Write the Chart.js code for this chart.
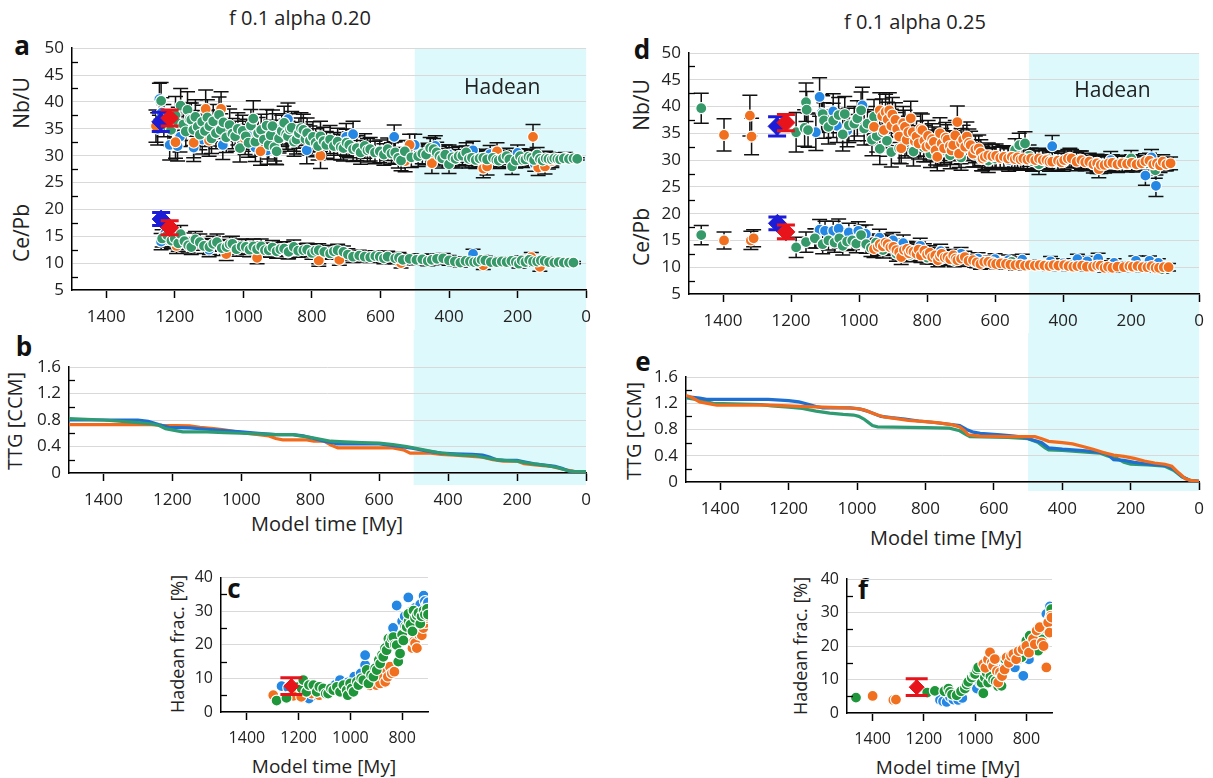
<!DOCTYPE html>
<html>
<head>
<meta charset="utf-8">
<script src="https://cdn.jsdelivr.net/npm/chart.js@4.4.0/dist/chart.umd.min.js"></script>
<style>
  body { margin: 0; background: #fff; width: 1213px; height: 778px; position: relative; overflow: hidden; font-family: 'Open Sans', sans-serif; color: #222; }
  canvas { position: absolute; }
  .lbl { position: absolute; white-space: nowrap; line-height: 1; transform: translate(-50%, -50%); }
  .rot { transform: translate(-50%, -50%) rotate(-90deg); }
  .letter { font-weight: bold; font-size: 26px; color: #111; }
</style>
</head>
<body>

<div class="lbl" style="left:300px;top:18px;font-size:20px">f 0.1 alpha 0.20</div>
<div class="lbl" style="left:915px;top:22px;font-size:20px">f 0.1 alpha 0.25</div>

<div class="lbl letter" style="left:22px;top:45px">a</div>
<div class="lbl letter" style="left:642px;top:49px">d</div>
<div class="lbl letter" style="left:24px;top:346px">b</div>
<div class="lbl letter" style="left:643px;top:361px">e</div>
<div class="lbl letter" style="left:234px;top:588px">c</div>
<div class="lbl letter" style="left:863px;top:589px">f</div>

<div class="lbl rot" style="left:21px;top:103px;font-size:21px">Nb/U</div>
<div class="lbl rot" style="left:21px;top:233px;font-size:21px">Ce/Pb</div>
<div class="lbl rot" style="left:641px;top:105px;font-size:21px">Nb/U</div>
<div class="lbl rot" style="left:641px;top:237px;font-size:21px">Ce/Pb</div>
<div class="lbl rot" style="left:15px;top:421px;font-size:20px">TTG [CCM]</div>
<div class="lbl rot" style="left:634px;top:431px;font-size:20px">TTG [CCM]</div>
<div class="lbl rot" style="left:177px;top:644px;font-size:18px">Hadean frac. [%]</div>
<div class="lbl rot" style="left:800px;top:646px;font-size:18px">Hadean frac. [%]</div>

<div class="lbl" style="left:327px;top:524px;font-size:20px">Model time [My]</div>
<div class="lbl" style="left:946px;top:538px;font-size:20px">Model time [My]</div>
<div class="lbl" style="left:324px;top:766px;font-size:19px">Model time [My]</div>
<div class="lbl" style="left:948px;top:767px;font-size:19px">Model time [My]</div>

<script>
// ---- colours
const BLUE = '#2487e3';
const ORANGE = '#f0701f';
const GREEN = '#35996a';
const GREEN2 = '#1f963a';
const OBS_BLUE = '#1c1cd6';
const OBS_RED = '#e8141c';

// ---- ticks
const xTicksLong = [1400, 1200, 1000, 800, 600, 400, 200, 0];
const xTicksShort = [1400, 1200, 1000, 800];
const yTicksRatio = [5, 10, 15, 20, 25, 30, 35, 40, 45, 50];
const yMinorRatio = [7.5, 12.5, 17.5, 22.5, 27.5, 32.5, 37.5, 42.5, 47.5];
const yTicksTTG = [0, 0.4, 0.8, 1.2, 1.6];
const yMinorTTG = [0.2, 0.6, 1.0, 1.4];
const yTicksFrac = [0, 10, 20, 30, 40];
const yMinorFrac = [5, 15, 25, 35];

// ---- observed values [time, value, half error]
const obsBlueNbCe = [[1241, 36.3, 1.8], [1240, 18.2, 1.2]];
const obsRedNbCe = [[1215, 37.0, 1.5], [1215, 16.6, 1.3]];
const obsRedFrac = [[1228, 7.7, 2.5]];

// ---- panel a : f 0.1 alpha 0.20, Nb/U and Ce/Pb  [time, value, half error]
const aNbBlue = [[1250,35,3],[1245,40.5,3],[1238,38,2.8],[1215,32,2.8],[1185,33.5,2.8],[1192,31.8,2.8],[1145,31.5,2.6],[1120,33,2.7],[1085,35.5,2.9],[1060,32,2.7],[990,34,2.8],[965,31.5,2.6],[930,31,2.6],[905,35,2.8],[870,36.8,3],[850,33.5,2.7],[815,31,2.5],[700,33.5,2.5],[680,34,2.4],[560,33.5,2.2],[500,32,2],[440,31.8,1.9],[400,30.2,1.8],[330,31,1.7],[280,30.3,1.6],[200,30.5,1.5],[150,28.5,1.4],[110,28.8,1.3],[60,29.6,1]];
const aNbOrange = [[1255,35.5,3],[1198,32.5,3],[1145,32.4,2.8],[1110,38.7,3.5],[1100,32.8,2.9],[1065,38.7,3.2],[995,33,2.8],[950,30.8,2.6],[905,31,2.6],[775,30,2.4],[700,32.5,2.4],[560,30.5,2.1],[528,29,2],[515,32,2],[450,28.6,1.9],[350,30,1.8],[300,27.6,1.7],[289,28,1.6],[260,30.8,1.6],[155,33.5,2.3],[140,27.8,1.5],[120,28,1.4],[100,29,1.2]];
const aNbGreen = [[1240,40.2,3.4],[1232,36.5,3],[1220,35.2,3.2],[1211,34.8,3],[1198,37.5,3.5],[1190,36,3],[1183,39.3,3.2],[1175,35.8,3],[1168,34.5,2.8],[1163,38.5,3.4],[1157,36.8,3],[1152,36.7,3.1],[1146,34.8,2.9],[1140,37.2,3.2],[1133,35.4,3],[1127,33.9,2.8],[1120,36.3,3.1],[1112,34.6,2.9],[1105,37.1,3.3],[1099,35.5,3],[1093,33.2,2.8],[1088,36.4,3.1],[1080,34.2,2.9],[1071,37.6,3.3],[1066,34.8,3],[1058,36.2,3],[1050,33.4,2.8],[1040,35.7,3],[1032,34.1,2.8],[1024,33.6,2.8],[1016,35,3],[1010,31.4,2.6],[1002,34.6,2.9],[993,33.6,2.8],[985,32.4,2.7],[978,35.6,3],[971,36.9,3.3],[965,32.6,2.7],[957,34.2,2.9],[948,34.8,2.9],[940,33,2.7],[932,35.6,3],[926,32,2.6],[920,33.8,2.8],[915,35.5,3],[909,31.6,2.6],[903,30.8,2.5],[896,33.2,2.7],[888,34.6,2.9],[881,36.1,3.1],[875,34,2.8],[870,33.6,2.8],[864,34.9,2.9],[859,35.2,3],[852,32.6,2.7],[845,33,2.7],[838,34.2,2.8],[832,35.1,2.9],[825,34.8,2.9],[819,33.1,2.7],[814,34.2,2.8],[806,32.8,2.7],[797,33.5,2.8],[789,32.4,2.6],[782,31.8,2.6],[775,33.6,2.8],[766,32.7,2.6],[758,32,2.5],[747,33,2.6],[736,31.8,2.5],[725,32.6,2.5],[716,31.6,2.4],[708,31.4,2.4],[699,32.4,2.5],[691,32,2.4],[680,31.2,2.3],[669,31.4,2.3],[658,30.6,2.2],[646,31.8,2.3],[638,31,2.2],[630,31.2,2.2],[616,30.6,2.1],[602,30.8,2.1],[590,30.2,2],[579,31.2,2.1],[568,30.4,2],[557,30.6,2],[548,29.6,1.9],[540,29.1,1.9],[529,30.8,2],[510,29.7,1.9],[490,29.9,1.9],[478,30.4,1.9],[467,30.2,1.9],[455,31.4,2],[445,31.2,2],[436,30.6,1.9],[428,29.9,1.8],[420,29.5,1.8],[411,30.2,1.8],[400,28.4,1.7],[390,29.7,1.8],[381,29.4,1.7],[372,29.9,1.8],[361,30,1.7],[350,30.6,1.8],[342,29.4,1.7],[333,29.6,1.7],[322,29.2,1.6],[311,29.5,1.6],[300,29.6,1.6],[289,29.3,1.6],[272,29.6,1.6],[262,29.2,1.5],[255,29.1,1.5],[243,29.5,1.5],[232,29.9,1.5],[224,29.3,1.5],[216,28,1.5],[205,29.1,1.4],[193,29.9,1.4],[185,29.2,1.4],[177,29.3,1.4],[168,29.8,1.4],[160,29.6,1.4],[152,29.2,1.3],[143,30.2,1.3],[135,29.4,1.3],[127,29.1,1.3],[118,29.5,1.3],[110,29.4,1.2],[100,29.3,1.2],[93,29.5,1],[84,29.4,0.8],[76,29.3,0.6],[65,29.5,0.4],[50,29.4,0.3],[37,29.5,0.2],[26,29.4,0.2]];
const aCeBlue = [[1240,14,1.5],[1228,15.5,1.6],[1100,12.5,1.3],[870,12,1.2],[780,11,1.1],[480,10.8,0.9],[330,11.7,0.9],[180,10.5,0.8]];
const aCeOrange = [[1215,14.5,1.5],[1195,13.2,1.4],[1050,11.7,1.2],[960,11,1.1],[780,10.5,1.1],[720,10.6,1],[540,10,0.9],[300,9.6,0.8],[160,11.1,0.9],[135,9.3,0.8]];
const aCeGreen = [[1237,14.6,1.6],[1222,15.2,1.6],[1210,14.2,1.5],[1200,14.6,1.5],[1190,13.7,1.5],[1183,15.4,1.6],[1172,14.1,1.5],[1161,13.3,1.4],[1152,13,1.4],[1140,14.4,1.5],[1127,13.9,1.5],[1115,13.2,1.4],[1099,13,1.4],[1088,13.6,1.4],[1077,13.9,1.5],[1063,12.8,1.4],[1049,13,1.4],[1040,13.5,1.4],[1032,13.6,1.4],[1020,12.6,1.3],[1005,13.1,1.4],[993,13,1.4],[982,12.5,1.3],[971,13.1,1.4],[960,12.6,1.3],[948,13.1,1.4],[937,12.4,1.3],[926,12.4,1.3],[915,12.9,1.3],[903,12.2,1.3],[892,12.6,1.3],[881,12.7,1.3],[868,12.1,1.3],[853,13,1.3],[840,12.3,1.2],[825,12.4,1.2],[814,12.5,1.2],[800,11.9,1.2],[790,12.3,1.2],[780,12.4,1.2],[764,12.1,1.2],[747,11.8,1.1],[736,12.2,1.1],[725,12.4,1.1],[708,12.1,1.1],[695,11.6,1.1],[680,11.2,1.1],[662,11.4,1],[646,11.2,1],[630,11.1,1],[615,11.3,1],[602,11.2,1],[590,10.9,1],[579,11.2,1],[557,10.9,1],[546,11,1],[535,10.6,0.9],[515,10.8,0.9],[495,10.6,0.9],[478,10.7,0.9],[462,10.4,0.9],[450,10.6,0.9],[435,10.8,0.9],[417,10.9,0.9],[400,10.5,0.9],[383,10.3,0.8],[367,10.1,0.8],[352,10.4,0.8],[339,10.3,0.8],[327,10.2,0.8],[316,10.3,0.8],[305,10.6,0.8],[294,10.5,0.8],[278,10.2,0.8],[261,10.2,0.8],[246,10.3,0.8],[232,10.2,0.8],[218,10.4,0.8],[205,10.2,0.8],[196,9.9,0.8],[188,10.5,0.8],[177,10.2,0.8],[166,10.6,0.8],[155,10.3,0.7],[143,10.3,0.7],[132,10.5,0.7],[121,10.4,0.7],[108,10.2,0.7],[93,10.1,0.5],[80,10.2,0.4],[65,10.1,0.3],[50,10.1,0.2],[37,10.1,0.2]];

// ---- panel d : f 0.1 alpha 0.25, Nb/U and Ce/Pb
const dNbBlue = [[1127,35.2,3.4],[1116,41.8,3.6],[1110,38.8,3.4],[1076,39.1,3.3],[1065,36.4,3.1],[1035,35.5,3],[990,40.2,3.4],[960,36,3.1],[880,34.8,2.9],[820,33.4,2.7],[760,31.5,2.6],[700,31.8,2.5],[560,30,2.1],[432,32.6,2],[380,30.4,1.8],[300,29.2,1.7],[260,30,1.6],[158,27.1,1.8],[140,30.5,1.5],[127,25.2,2]];
const dNbGreen = [[1464,39.7,2.8],[1185,35.2,3.7],[1160,36,3.4],[1156,40.8,3.6],[1154,39.4,3.4],[1150,35.6,3.2],[1107,38.6,3.4],[1103,37.4,3.3],[1090,36.2,3.2],[1076,37.4,3.2],[1060,38.4,3.3],[1048,34.8,3.1],[1042,38.6,3.3],[1030,36.5,3.2],[1014,36.8,3.2],[1005,37.8,3.3],[994,39.3,3.4],[985,35.9,3.1],[975,36.8,3.2],[962,33.8,3],[956,38.1,3.2],[948,34.5,3],[939,32.1,2.9],[930,35.2,3],[918,33.6,2.9],[905,31.5,2.8],[882,32.2,2.8],[865,33.2,2.8],[840,31.6,2.7],[810,32.4,2.7],[790,31.2,2.6],[770,32.7,2.7],[750,31.8,2.6],[732,30.9,2.5],[700,30.5,2.4],[660,31,2.3],[640,30.2,2.2],[620,29.9,2.2],[600,30.3,2.1],[560,30.5,2],[541,31.9,2.1],[529,32.8,2.2],[512,33.1,2.2],[500,30.8,2],[490,29.8,1.9],[471,29.2,1.9],[445,30.2,1.8],[400,29.6,1.7],[350,30.1,1.6],[300,29.5,1.6],[250,29.3,1.5],[200,30.3,1.5],[155,29.4,1.4],[129,28.1,1.5],[100,29.2,1.2]];
const dNbOrange = [[1397,34.7,3],[1321,38.3,3.8],[1316,34.4,3.4],[956,36.2,3.2],[939,39.3,3.3],[932,38.2,3.2],[927,35.6,3.1],[922,39,3.3],[916,37.6,3.2],[911,39.3,3.3],[905,36.4,3.1],[902,38.5,3.2],[893,37.5,3.2],[888,35.8,3.1],[882,34.4,3],[876,32.2,2.9],[870,36.9,3.1],[865,36.2,3.1],[860,33.8,3],[855,35.2,3],[848,37.8,3.2],[842,35.2,3],[836,33.5,2.9],[831,34.4,2.9],[825,33.1,2.9],[819,35.8,3],[814,35.6,3],[808,33.6,2.9],[802,32.5,2.8],[797,34.5,2.9],[791,32.8,2.8],[785,33.9,2.9],[780,33.4,2.8],[775,31.8,2.7],[770,30.6,2.6],[762,35,2.9],[757,33.1,2.8],[750,32.2,2.7],[745,34.2,2.8],[740,33.8,2.8],[733,32.6,2.7],[728,31.8,2.6],[723,32.8,2.7],[717,34.6,2.8],[711,37.1,3],[706,31.2,2.6],[700,33.2,2.7],[694,33.8,2.7],[688,32.5,2.6],[683,34.4,2.7],[677,33.2,2.6],[672,32.8,2.6],[665,31.2,2.5],[658,32,2.5],[648,32.2,2.5],[642,31.4,2.4],[637,30.3,2.3],[630,30.6,2.3],[620,30.9,2.3],[608,30.7,2.2],[597,30.8,2.2],[585,30.4,2.1],[574,30.6,2.1],[562,30.3,2.1],[551,30.6,2],[542,30.2,2],[534,30.5,2],[525,30.1,2],[517,30.3,2],[505,30.1,1.9],[494,30.3,1.9],[482,30,1.9],[471,30.3,1.9],[460,30,1.8],[449,30,1.8],[440,29.7,1.8],[432,29.7,1.8],[415,29.9,1.8],[405,29.6,1.7],[397,30,1.7],[386,30.3,1.7],[375,30.3,1.7],[360,29.7,1.7],[346,30,1.7],[335,29.6,1.6],[323,29.7,1.6],[311,29.2,1.6],[300,29.4,1.6],[295,28.3,1.6],[289,29.1,1.6],[278,29.1,1.5],[266,29.4,1.5],[255,29.5,1.5],[240,29.2,1.5],[226,29.4,1.5],[212,29.3,1.5],[198,29.5,1.5],[184,29.2,1.4],[169,29.4,1.4],[158,29.8,1.4],[146,29.9,1.4],[135,29.2,1.4],[124,29.4,1.3],[115,29,1.3],[107,29.7,1.3],[96,29.2,1.2],[84,29.4,1.2]];
const dCeBlue = [[1127,15.4,1.8],[1116,17,1.9],[1100,16.8,1.8],[1076,16.8,1.8],[1060,17.2,1.8],[1030,16.5,1.7],[1002,16.8,1.7],[980,16.2,1.7],[940,15.5,1.6],[900,15,1.5],[870,14.5,1.5],[820,14,1.4],[760,13,1.3],[700,12.5,1.2],[650,11.6,1.1],[600,11.5,1],[560,11.3,1],[520,11.4,1],[437,11.1,0.9],[400,10.7,0.9],[358,11.5,0.9],[329,11.1,0.9],[297,11.6,1],[250,10.8,0.8],[186,11.2,0.9],[146,11.2,0.9],[120,10.8,0.8]];
const dCeGreen = [[1464,16,1.8],[1185,13.7,1.9],[1156,14.7,1.9],[1130,15.4,1.8],[1107,14.3,1.8],[1090,15,1.8],[1072,14.6,1.8],[1058,15.4,1.8],[1048,14,1.7],[1035,14.8,1.7],[1020,15,1.7],[1008,14.4,1.7],[994,16,1.8],[979,14.3,1.7],[965,13.6,1.6],[950,14.6,1.6],[930,13.2,1.5],[890,12.5,1.4],[850,12.3,1.3],[800,11.8,1.2],[760,11.5,1.2],[720,11.2,1.1],[660,11,1],[608,10.9,1],[570,10.6,0.9],[551,11,0.9],[500,10.5,0.8],[450,10.3,0.8],[380,10.4,0.8],[300,10.2,0.8],[200,10.1,0.7],[130,9.8,0.7],[110,9.6,0.7]];
const dCeOrange = [[1397,15,1.6],[1318,15,1.7],[1310,15.4,1.6],[956,13.4,1.6],[945,13.8,1.6],[939,14.3,1.6],[930,13.9,1.5],[922,14.6,1.6],[916,14.3,1.6],[908,13.7,1.5],[899,13.8,1.5],[890,13.2,1.5],[882,12.8,1.4],[876,11.9,1.4],[868,13.2,1.4],[859,13.4,1.4],[853,12.6,1.4],[848,13.1,1.4],[840,12.9,1.4],[831,12.5,1.3],[825,13.3,1.4],[818,12.2,1.3],[808,13.1,1.3],[800,12.4,1.3],[792,12.7,1.3],[785,11.9,1.3],[776,12.2,1.2],[768,11.3,1.2],[762,12,1.2],[757,12.5,1.2],[748,11.8,1.2],[740,11.9,1.2],[732,11.5,1.1],[723,12.2,1.1],[716,11.6,1.1],[711,11.3,1.1],[700,11.6,1.1],[689,11.9,1.1],[678,11.2,1],[665,11.3,1],[654,10.9,1],[643,10.6,1],[632,11,1],[620,11,1],[608,10.7,0.9],[597,10.6,0.9],[583,10.7,0.9],[568,10.6,0.9],[555,10.5,0.9],[540,10.4,0.9],[526,10.5,0.9],[512,10.3,0.8],[498,10.4,0.8],[483,10.3,0.8],[469,10.4,0.8],[455,10.3,0.8],[440,10.2,0.8],[428,10.4,0.8],[414,10.3,0.8],[397,10.4,0.9],[384,10.2,0.8],[370,10.1,0.8],[358,10.2,0.8],[344,10.3,0.8],[330,10.1,0.8],[312,10.1,0.8],[300,10.3,0.8],[290,10.3,0.9],[278,9.9,0.8],[268,10.1,0.8],[255,9.9,0.8],[240,10.1,0.8],[221,10,0.8],[205,10.2,0.8],[195,10.1,0.8],[181,10.2,0.8],[166,10,0.8],[152,10,0.8],[140,10.2,0.8],[128,9.9,0.8],[118,9.9,0.8],[104,10,0.7],[90,10,0.7]];

// ---- panels b / e : TTG [CCM] curves  [time, value]
const bBlue = [[1500,0.80],[1300,0.80],[1270,0.78],[1240,0.73],[1210,0.69],[1150,0.68],[1100,0.66],[1050,0.64],[1000,0.62],[950,0.60],[900,0.58],[850,0.58],[820,0.56],[790,0.52],[760,0.48],[740,0.46],[720,0.44],[600,0.44],[570,0.42],[540,0.40],[500,0.37],[460,0.33],[420,0.30],[380,0.29],[330,0.28],[300,0.27],[280,0.24],[260,0.20],[230,0.19],[200,0.19],[180,0.17],[150,0.14],[120,0.12],[90,0.10],[70,0.07],[50,0.03],[35,0.02],[0,0.02]];
const bOrange = [[1500,0.73],[1260,0.73],[1230,0.72],[1150,0.71],[1120,0.69],[1080,0.67],[1050,0.65],[1000,0.61],[950,0.58],[920,0.56],[900,0.52],[880,0.50],[810,0.50],[790,0.48],[760,0.48],[740,0.42],[720,0.38],[560,0.38],[530,0.35],[510,0.30],[450,0.30],[420,0.28],[380,0.27],[330,0.25],[300,0.24],[270,0.20],[240,0.18],[200,0.18],[180,0.14],[140,0.12],[100,0.10],[70,0.06],[40,0.03],[25,0.01],[0,0.01]];
const bGreen = [[1500,0.82],[1400,0.80],[1300,0.76],[1260,0.74],[1240,0.72],[1220,0.67],[1190,0.64],[1170,0.62],[1100,0.62],[1050,0.61],[1000,0.60],[950,0.59],[900,0.58],[850,0.58],[830,0.56],[800,0.54],[770,0.51],[740,0.48],[700,0.47],[650,0.46],[600,0.45],[560,0.43],[520,0.40],[490,0.37],[460,0.34],[430,0.31],[400,0.29],[360,0.27],[320,0.26],[290,0.23],[270,0.21],[240,0.19],[200,0.18],[170,0.15],[140,0.13],[110,0.11],[80,0.08],[50,0.03],[30,0.02],[0,0.02]];
const eBlue = [[1500,1.30],[1460,1.28],[1440,1.26],[1260,1.26],[1200,1.24],[1170,1.22],[1140,1.18],[1120,1.15],[1100,1.13],[1020,1.13],[990,1.11],[970,1.08],[950,1.04],[930,1.00],[900,0.98],[860,0.96],[820,0.93],[780,0.91],[730,0.88],[700,0.86],[680,0.80],[660,0.76],[640,0.74],[580,0.72],[540,0.70],[510,0.68],[480,0.63],[460,0.60],[440,0.52],[400,0.50],[340,0.48],[300,0.46],[270,0.43],[250,0.34],[220,0.33],[190,0.30],[160,0.28],[120,0.26],[90,0.24],[70,0.18],[50,0.08],[25,0.02],[0,0.01]];
const eGreen = [[1500,1.28],[1470,1.26],[1440,1.22],[1420,1.20],[1280,1.18],[1250,1.16],[1200,1.14],[1160,1.12],[1120,1.08],[1080,1.05],[1040,1.03],[1010,1.02],[995,1.00],[980,0.96],[970,0.92],[955,0.86],[940,0.84],[800,0.83],[730,0.82],[700,0.78],[680,0.72],[670,0.69],[560,0.68],[500,0.66],[470,0.60],[450,0.52],[440,0.49],[400,0.48],[340,0.46],[290,0.44],[270,0.40],[240,0.36],[220,0.30],[200,0.27],[150,0.26],[100,0.24],[75,0.18],[50,0.08],[25,0.02],[0,0.01]];
const eOrange = [[1500,1.32],[1480,1.28],[1460,1.22],[1430,1.19],[1410,1.17],[1260,1.17],[1200,1.16],[1150,1.15],[1100,1.14],[1030,1.13],[1000,1.12],[980,1.10],[960,1.06],[940,1.02],[920,0.99],[890,0.97],[850,0.94],[800,0.92],[760,0.90],[720,0.87],[700,0.84],[685,0.78],[675,0.72],[640,0.70],[560,0.69],[480,0.69],[460,0.66],[440,0.62],[400,0.60],[370,0.58],[340,0.54],[310,0.50],[280,0.45],[250,0.41],[220,0.39],[190,0.36],[160,0.32],[130,0.29],[100,0.27],[80,0.24],[60,0.14],[40,0.05],[20,0.02],[0,0.01]];

// ---- panels c / f : Hadean fraction [%]  [time, value]
const cBlue = [[1266,7.7],[1240,7.2],[1160,4],[1130,5],[1085,6.2],[1060,8],[1040,9.5],[1010,8.8],[985,10.5],[960,11.5],[943,14],[943,16.9],[925,12],[900,13.5],[880,16],[860,19.5],[850,22],[835,25],[821,31.7],[800,27],[790,28.5],[776,34.1],[765,30],[750,31],[740,28.5],[730,32],[717,34.6],[712,33],[705,32],[700,32.6]];
const cOrange = [[1298,5],[1240,4.5],[1220,4.8],[1190,4.5],[1150,5.5],[1120,5],[1095,5.3],[1000,6.5],[924,7.9],[900,8],[885,8.5],[873,10.4],[865,9],[860,12.5],[855,10.5],[847,13.5],[840,11.5],[830,12],[760,19],[755,21],[750,20.5],[743,19],[735,23],[724,22.8],[718,25],[710,26.5],[705,28],[700,28.5]];
const cGreen = [[1285,3.4],[1247,4.2],[1200,7.5],[1188,7],[1182,9.5],[1170,6],[1160,8],[1143,8],[1130,6],[1120,7.5],[1105,7],[1095,5.5],[1086,5.5],[1075,7],[1066,6.5],[1052,7.5],[1040,6],[1027,8],[1014,6.5],[1001,8.5],[1010,5],[995,7],[988,6],[975,9],[969,8],[958,10],[950,9.5],[937,12.5],[930,8.5],[920,11],[911,10.5],[904,13],[898,12.5],[890,15.5],[885,14.4],[878,17],[873,16.4],[866,19],[860,18.4],[853,21.8],[847,20.4],[840,22],[834,22.3],[828,20],[821,19.9],[815,15],[808,17.4],[800,23],[795,21.3],[788,25.5],[782,25.3],[775,27],[776,29.2],[768,26],[760,24],[756,30.2],[750,28],[743,28.8],[737,29.5],[730,26.3],[725,28.5],[717,30.2],[712,29],[704,30.7],[700,29]];
const fBlue = [[1137,3.9],[1125,3.5],[1111,3.3],[1098,4.8],[1085,4],[1066,3.9],[1050,4.5],[993,7.3],[980,9],[960,10],[945,12],[920,11],[900,13],[880,14.5],[860,15.5],[845,13.6],[830,16],[812,11.1],[800,18],[790,16],[770,19.5],[760,21],[745,25],[735,24],[722,29.6],[715,27],[708,31.8],[703,30]];
const fGreen = [[1465,4.6],[1187,6.1],[1157,6.6],[1120,6.5],[1104,7.3],[1098,6.3],[1090,5.5],[1072,5.3],[1055,6.5],[1040,7.3],[1033,8.5],[1027,9.3],[1013,10.6],[1005,11.5],[1000,11.6],[993,13],[988,13.6],[975,9],[968,5.9],[962,10.6],[955,12],[949,9.1],[940,11],[930,10],[920,9.5],[910,8],[897,8.1],[884,16.1],[860,17],[840,17],[819,16.6],[808,19],[800,21.6],[787,23.1],[770,21],[754,18.6],[740,22],[720,25],[710,28],[703,31]];
const fOrange = [[1400,5.1],[1319,3.9],[1309,4],[968,14.6],[960,13.5],[950,16],[942,18.1],[935,15],[930,14],[923,16.1],[915,12.5],[910,9.1],[903,12.1],[895,11],[885,13],[877,16.6],[868,15],[860,17],[851,17.6],[840,16],[830,18.5],[815,19],[800,20],[790,18],[774,22.1],[767,20.5],[760,24.6],[748,25.6],[740,21],[733,20],[722,13.6],[715,27],[710,24],[705,29],[702,28.5]];

Chart.defaults.font.family = "'Open Sans', sans-serif";
Chart.defaults.color = '#222';

// error bars: ordinary points under all markers, observed diamonds right before their own marker
function drawBars(chart, i) {
    const ds = chart.data.datasets[i];
    if (!ds.errColor) return;
    const ys = chart.scales.y;
    const ctx = chart.ctx;
    const meta = chart.getDatasetMeta(i);
    ctx.save();
    ctx.strokeStyle = ds.errColor;
    ctx.lineWidth = ds.errWidth;
    meta.data.forEach(function (pt, j) {
        const d = ds.data[j];
        if (!d.e) return;
        const top = ys.getPixelForValue(d.y + d.e);
        const bot = ys.getPixelForValue(d.y - d.e);
        const cw = ds.capWidth;
        ctx.beginPath();
        ctx.moveTo(pt.x, top); ctx.lineTo(pt.x, bot);
        ctx.moveTo(pt.x - cw, top); ctx.lineTo(pt.x + cw, top);
        ctx.moveTo(pt.x - cw, bot); ctx.lineTo(pt.x + cw, bot);
        ctx.stroke();
    });
    ctx.restore();
}

const errorBars = {
    id: 'errorBars',
    beforeDatasetsDraw(chart) {
        chart.data.datasets.forEach(function (ds, i) {
            if (!ds.barsOnTop) drawBars(chart, i);
        });
    },
    beforeDatasetDraw(chart, args) {
        if (chart.data.datasets[args.index].barsOnTop) drawBars(chart, args.index);
    }
};

// cyan Hadean period band (behind grid), its label on top of the grid
const hadeanBand = {
    id: 'hadeanBand',
    beforeDraw(chart, args, o) {
        if (!o.show) return;
        const ctx = chart.ctx, area = chart.chartArea, x = chart.scales.x;
        const x1 = x.getPixelForValue(o.from), x2 = x.getPixelForValue(o.to);
        const top = o.fromCanvasTop ? 0 : area.top;
        const bottom = o.toCanvasBottom ? chart.height : area.bottom + o.below;
        ctx.save();
        ctx.fillStyle = '#ddf9fc';
        ctx.fillRect(x1, top, x2 - x1, bottom - top);
        ctx.restore();
    },
    beforeDatasetsDraw(chart, args, o) {
        if (!o.show || !o.text) return;
        const ctx = chart.ctx, x = chart.scales.x, y = chart.scales.y;
        ctx.save();
        ctx.fillStyle = '#222';
        ctx.font = "21px 'Open Sans', sans-serif";
        ctx.textAlign = 'center';
        ctx.textBaseline = 'middle';
        ctx.fillText(o.text, x.getPixelForValue(o.textAt[0]), y.getPixelForValue(o.textAt[1]));
        ctx.restore();
    }
};

const minorTicks = {
    id: 'minorTicks',
    afterDraw(chart, args, o) {
        if (!o.values) return;
        const ctx = chart.ctx, area = chart.chartArea, y = chart.scales.y;
        ctx.save();
        ctx.strokeStyle = '#000';
        ctx.lineWidth = 1.3;
        o.values.forEach(function (v) {
            const py = Math.round(y.getPixelForValue(v)) + 0.5;
            ctx.beginPath();
            ctx.moveTo(area.left, py);
            ctx.lineTo(area.left + 6, py);
            ctx.stroke();
        });
        ctx.restore();
    }
};

function pts(arr) {
    return arr.map(p => ({ x: p[0], y: p[1], e: p[2] }));
}

function dots(arr, color, order, r) {
    return {
        data: pts(arr), order: order,
        backgroundColor: color, borderColor: '#fff', borderWidth: 1.2,
        pointRadius: r, pointHoverRadius: r,
        errColor: '#111', errWidth: 1.5, capWidth: 7.5
    };
}

function obs(arr, color, order, r, cap) {
    return {
        data: pts(arr), order: order, pointStyle: 'rectRot',
        backgroundColor: color, borderColor: color, borderWidth: 1,
        pointRadius: r, pointHoverRadius: r,
        errColor: color, errWidth: 3, capWidth: cap, barsOnTop: true
    };
}

function curve(arr, color, order) {
    return {
        data: pts(arr), order: order, showLine: true,
        borderColor: color, borderWidth: 3.2, pointRadius: 0, tension: 0
    };
}

function panel(id, box, opt) {
    const cv = document.createElement('canvas');
    cv.id = id;
    cv.width = box.w;
    cv.height = box.h;
    cv.style.left = box.left + 'px';
    cv.style.top = box.top + 'px';
    document.body.appendChild(cv);

    new Chart(cv, {
        type: 'scatter',
        data: { datasets: opt.datasets },
        options: {
            responsive: false,
            animation: false,
            events: [],
            layout: { padding: { left: 0, top: box.pt, right: box.pr, bottom: 0 } },
            plugins: {
                legend: { display: false },
                tooltip: { enabled: false },
                hadeanBand: opt.band || { show: false },
                minorTicks: { values: opt.yMinor }
            },
            scales: {
                x: {
                    type: 'linear', reverse: true, min: opt.xMin, max: 1500,
                    afterBuildTicks: s => { s.ticks = opt.xTicks.map(v => ({ value: v })); },
                    afterFit: s => { s.height = box.hx; },
                    grid: { drawOnChartArea: false, drawTicks: true, tickLength: 8, tickColor: '#000', tickWidth: 1.5 },
                    border: { color: '#000', width: 1.5 },
                    ticks: { font: { size: opt.font }, color: '#222', padding: 9, maxRotation: 0, autoSkip: false, callback: v => String(v) }
                },
                y: {
                    type: 'linear', min: opt.yTicks[0], max: opt.yTicks[opt.yTicks.length - 1],
                    afterBuildTicks: s => { s.ticks = opt.yTicks.map(v => ({ value: v })); },
                    afterFit: s => { s.width = box.wy; },
                    grid: { color: '#d9d9d9', drawTicks: false, lineWidth: 1 },
                    border: { color: '#000', width: 1.5 },
                    ticks: { font: { size: opt.font }, color: '#222', padding: 8, autoSkip: false, callback: v => String(v) }
                }
            }
        },
        plugins: [hadeanBand, errorBars, minorTicks]
    });
}

// a
panel('chartA', { left: 0, top: 30, w: 600, h: 300, wy: 72, pt: 18, pr: 10, hx: 40 }, {
    xMin: 0, xTicks: xTicksLong, yTicks: yTicksRatio, yMinor: yMinorRatio, font: 17,
    band: { show: true, from: 500, to: 0, toCanvasBottom: true, text: 'Hadean', textAt: [245, 42.6] },
    datasets: [
        obs(obsRedNbCe, OBS_RED, 0, 9, 9),
        obs(obsBlueNbCe, OBS_BLUE, 1, 9, 9),
        dots(aNbGreen, GREEN, 2, 5.5), dots(aCeGreen, GREEN, 2, 5.5),
        dots(aNbOrange, ORANGE, 3, 5.5), dots(aCeOrange, ORANGE, 3, 5.5),
        dots(aNbBlue, BLUE, 4, 5.5), dots(aCeBlue, BLUE, 4, 5.5)
    ]
});

// b
panel('chartB', { left: 0, top: 330, w: 600, h: 190, wy: 69, pt: 37, pr: 14, hx: 47 }, {
    xMin: 0, xTicks: xTicksLong, yTicks: yTicksTTG, yMinor: yMinorTTG, font: 17,
    band: { show: true, from: 500, to: 0, fromCanvasTop: true, below: 12 },
    datasets: [curve(bGreen, '#2f9b72', 0), curve(bBlue, '#1f6fd1', 1), curve(bOrange, '#f26b1d', 2)]
});

// c
panel('chartC', { left: 150, top: 560, w: 290, h: 190, wy: 71, pt: 17, pr: 12, hx: 38 }, {
    xMin: 700, xTicks: xTicksShort, yTicks: yTicksFrac, yMinor: yMinorFrac, font: 16,
    datasets: [
        obs(obsRedFrac, OBS_RED, 0, 7.5, 11),
        dots(cGreen, GREEN2, 1, 5.5), dots(cOrange, ORANGE, 2, 5.5), dots(cBlue, BLUE, 3, 5.5)
    ]
});

// d
panel('chartD', { left: 600, top: 30, w: 613, h: 303, wy: 89, pt: 23, pr: 7, hx: 39 }, {
    xMin: 0, xTicks: xTicksLong, yTicks: yTicksRatio, yMinor: yMinorRatio, font: 17,
    band: { show: true, from: 500, to: 0, toCanvasBottom: true, text: 'Hadean', textAt: [255, 42.9] },
    datasets: [
        obs(obsRedNbCe, OBS_RED, 0, 9, 9),
        obs(obsBlueNbCe, OBS_BLUE, 1, 9, 9),
        dots(dNbOrange, ORANGE, 2, 5.5), dots(dCeOrange, ORANGE, 2, 5.5),
        dots(dNbGreen, GREEN, 3, 5.5), dots(dCeGreen, GREEN, 3, 5.5),
        dots(dNbBlue, BLUE, 4, 5.5), dots(dCeBlue, BLUE, 4, 5.5)
    ]
});

// e
panel('chartE', { left: 600, top: 333, w: 613, h: 197, wy: 86, pt: 44, pr: 8, hx: 48 }, {
    xMin: 0, xTicks: xTicksLong, yTicks: yTicksTTG, yMinor: yMinorTTG, font: 17,
    band: { show: true, from: 500, to: 0, fromCanvasTop: true, below: 9 },
    datasets: [curve(eOrange, '#f26b1d', 0), curve(eBlue, '#1f6fd1', 1), curve(eGreen, '#2f9b72', 2)]
});

// f
panel('chartF', { left: 770, top: 560, w: 300, h: 190, wy: 77, pt: 19, pr: 18, hx: 37 }, {
    xMin: 700, xTicks: xTicksShort, yTicks: yTicksFrac, yMinor: yMinorFrac, font: 16,
    datasets: [
        obs(obsRedFrac, OBS_RED, 0, 7.5, 11),
        dots(fOrange, ORANGE, 1, 5.5), dots(fGreen, GREEN2, 2, 5.5), dots(fBlue, BLUE, 3, 5.5)
    ]
});
</script>
</body>
</html>
